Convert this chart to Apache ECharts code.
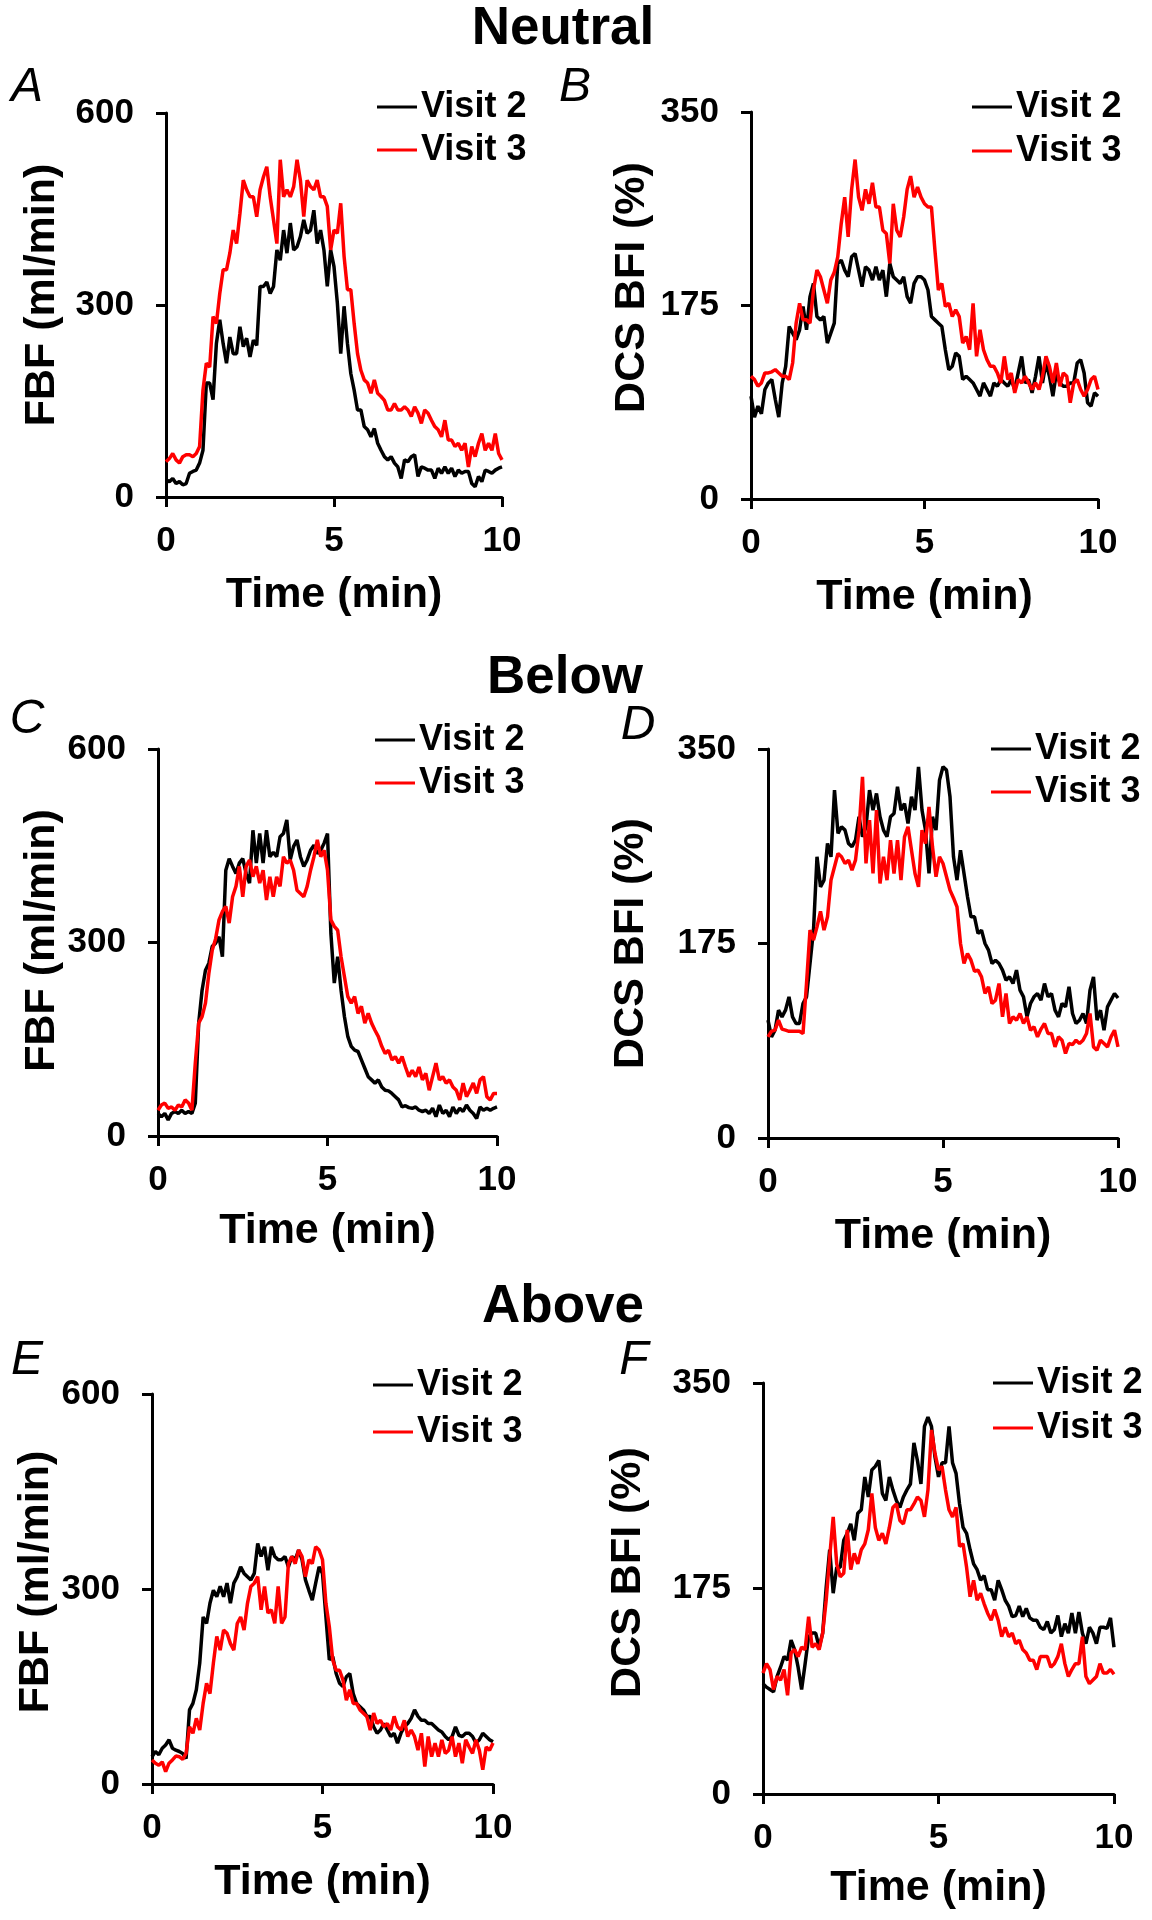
<!DOCTYPE html>
<html>
<head>
<meta charset="utf-8">
<script src="https://cdn.jsdelivr.net/npm/echarts@6/dist/echarts.min.js"></script>
<style>
html,body{margin:0;padding:0;background:#fff;}
#chart{width:1152px;height:1920px;}
</style>
</head>
<body>
<div id="chart"></div>
<script>
// ---------------- DATA ----------------
// sample times in minutes (one sample every 0.1 min, 0..10)
const timeMin = Array.from({length: 101}, (_, i) => Math.round(i) / 10);
const xTicks = [0, 5, 10];
const fbfTicks = [0, 300, 600];
const dcsTicks = [0, 175, 350];
const sectionTitles = ['Neutral', 'Below', 'Above'];
const panelLetters = ['A', 'B', 'C', 'D', 'E', 'F'];
const seriesNames = ['Visit 2', 'Visit 3'];

// Neutral - FBF (ml/min)
const neutralFbfV2 = [27,24,29,21,24,19,21,37,40,42,
 53,73,178,178,152,240,277,240,209,250,
 224,224,266,235,248,219,245,237,329,329,
 336,318,329,386,370,417,381,428,386,391,
 407,433,412,417,448,396,417,386,329,386,
 360,303,224,298,240,193,167,136,136,110,
 105,94,107,84,73,63,58,63,53,47,
 29,58,55,63,66,32,47,45,42,42,
 29,45,37,47,37,45,32,42,37,40,
 40,21,16,32,24,42,40,37,42,45,
 47];
const neutralFbfV3 = [55,60,68,58,53,63,66,66,63,68,
 79,167,209,203,282,271,318,355,355,381,
 417,396,443,495,480,469,469,438,480,500,
 516,469,433,396,527,469,480,469,485,527,
 495,438,495,485,480,495,469,469,454,386,
 417,412,459,376,324,324,271,224,198,183,
 178,162,183,162,157,151,136,136,146,136,
 136,141,136,126,141,131,115,136,131,120,
 110,105,94,120,89,89,79,84,73,84,
 47,79,63,84,99,73,84,73,99,68,
 58];
// Neutral - DCS BFI (%)
const neutralDcsV2 = [93,74,84,77,99,105,108,90,74,105,
 120,156,150,144,153,174,153,183,195,165,
 162,165,141,150,159,213,216,207,201,219,
 222,207,192,210,207,198,210,198,207,183,
 213,201,198,195,201,183,177,195,201,201,
 198,189,165,162,159,156,135,117,120,132,
 129,108,111,108,105,99,93,105,99,93,
 105,102,108,105,102,108,99,114,129,105,
 108,96,111,129,105,123,111,93,114,105,
 102,102,105,105,123,126,114,87,84,96,
 93];
const neutralDcsV3 = [111,108,102,105,114,114,115,117,114,111,
 111,108,123,159,177,162,162,159,189,207,
 201,189,177,198,205,219,249,273,237,280,
 307,273,261,280,267,286,264,264,243,240,
 213,267,243,237,255,280,292,273,282,273,
 267,264,264,225,189,195,174,177,165,171,
 165,141,147,135,177,129,153,135,126,120,
 120,114,105,129,108,114,96,108,105,111,
 105,99,105,99,111,129,120,105,123,102,
 114,111,87,105,108,99,93,99,108,111,
 99];
// Below - FBF (ml/min)
const belowFbfV2 = [35,30,35,25,35,38,35,40,35,38,
 35,51,175,226,257,268,294,299,309,278,
 412,430,418,407,423,430,407,392,474,423,
 469,423,474,433,440,433,464,469,490,428,
 449,459,433,418,428,443,451,438,443,454,
 469,314,237,278,226,185,154,139,133,131,
 118,105,92,87,82,87,76,71,70,66,
 61,56,45,47,44,43,45,40,38,40,
 35,43,30,48,35,40,30,45,35,43,
 38,48,40,35,27,45,40,43,40,43,
 45];
const belowFbfV3 = [40,48,51,43,45,40,48,45,56,51,
 40,113,175,185,206,252,288,306,335,348,
 356,330,371,387,418,371,418,428,402,418,
 392,412,366,402,371,402,387,433,423,428,
 412,381,376,371,387,412,433,459,433,443,
 412,335,325,319,278,247,216,206,216,190,
 201,175,190,175,164,154,139,128,133,118,
 123,113,123,107,92,102,92,107,87,97,
 71,92,113,87,92,82,87,76,71,56,
 82,61,71,82,66,87,92,61,56,66,
 66];
// Below - DCS BFI (%)
const belowDcsV2 = [106,91,97,115,109,115,127,109,103,103,
 121,127,157,187,253,226,232,265,253,313,
 274,280,277,265,262,268,289,271,280,313,
 295,310,289,277,271,289,292,316,295,301,
 283,307,295,334,295,277,238,289,277,322,
 334,331,307,253,232,259,238,217,199,199,
 184,187,175,169,157,160,157,151,142,145,
 139,151,133,127,109,121,127,130,124,139,
 127,130,115,109,121,118,136,112,103,106,
 112,103,133,145,106,115,97,118,124,130,
 126];
const belowDcsV3 = [91,96,97,106,98,97,96,96,96,96,
 94,139,187,178,190,204,187,199,232,244,
 256,253,247,250,241,250,277,325,247,286,
 238,295,229,253,232,268,238,268,232,271,
 280,259,238,226,277,265,298,262,235,253,
 247,235,223,216,208,175,157,166,160,150,
 151,145,130,136,121,124,139,109,130,103,
 109,106,112,103,109,97,100,91,98,103,
 94,94,82,91,88,76,85,84,88,85,
 88,94,112,82,79,88,85,82,91,97,
 82];
// Above - FBF (ml/min)
const aboveFbfV2 = [42,50,45,55,60,68,55,52,50,47,
 39,114,124,145,186,257,247,278,298,288,
 304,288,309,278,309,319,334,324,319,314,
 324,370,350,365,329,365,350,345,345,350,
 334,350,345,360,345,314,298,283,309,334,
 324,257,191,196,170,155,150,165,170,139,
 124,119,114,104,104,88,78,83,93,83,
 73,78,63,78,88,93,101,114,104,98,
 98,93,93,88,83,80,73,68,73,88,
 75,73,78,78,73,63,68,78,73,68,
 65];
const aboveFbfV3 = [37,32,29,34,19,32,37,43,42,38,
 47,88,78,101,83,124,155,139,186,227,
 206,237,232,216,206,247,257,237,278,304,
 309,319,268,304,263,268,247,304,247,257,
 339,350,339,360,350,319,345,339,365,360,
 345,278,242,191,175,175,160,129,145,124,
 124,114,109,104,83,109,93,98,88,93,
 83,104,88,83,98,73,83,73,52,78,
 27,73,42,63,42,68,47,52,73,42,
 63,32,68,57,47,68,52,22,57,52,
 63];
// Above - DCS BFI (%)
const aboveDcsV2 = [94,91,89,87,100,108,117,114,131,123,
 108,89,111,134,137,137,125,137,176,208,
 171,193,193,216,222,230,216,239,242,270,
 253,276,279,284,256,250,270,259,250,244,
 253,259,264,299,284,264,313,321,313,287,
 270,282,282,313,282,273,247,227,222,208,
 196,191,182,186,174,174,165,182,174,165,
 160,151,152,160,151,158,150,148,148,142,
 140,147,137,140,152,134,145,137,154,137,
 155,137,128,142,137,128,142,142,141,150,
 125];
const aboveDcsV3 = [103,111,106,89,100,97,106,84,120,123,
 117,125,123,151,125,128,123,137,165,202,
 236,196,185,188,225,191,205,196,208,213,
 225,256,227,216,222,213,227,244,247,233,
 230,242,242,247,253,250,236,259,310,290,
 276,279,259,242,236,244,211,213,193,168,
 182,165,171,162,154,148,157,148,134,142,
 134,137,128,131,123,120,114,114,106,117,
 117,117,108,111,117,128,111,100,106,111,
 111,134,100,94,97,100,111,103,103,106,
 102];

// ---------------- LAYOUT / STYLE ----------------
const FONT = "'Liberation Sans', Arial, Helvetica, sans-serif";
const panels = [
  {v2: neutralFbfV2, v3: neutralFbfV3, ticks: fbfTicks, yName: 'FBF (ml/min)',
   grid: {left: 166, top: 113, width: 336, height: 384}, yGap: 102, xGap: 77, yShift: 20,
   legend: {left: 377, top: 87, gap: 3}, letter: [27, 88]},
  {v2: neutralDcsV2, v3: neutralDcsV3, ticks: dcsTicks, yName: 'DCS BFI (%)',
   grid: {left: 751, top: 112, width: 347, height: 387}, yGap: 97, xGap: 77, yShift: 36,
   legend: {left: 972, top: 87, gap: 4}, letter: [575, 88]},
  {v2: belowFbfV2, v3: belowFbfV3, ticks: fbfTicks, yName: 'FBF (ml/min)',
   grid: {left: 158, top: 749, width: 339, height: 387}, yGap: 93, xGap: 74, yShift: 4,
   legend: {left: 375, top: 720, gap: 3}, letter: [27, 720]},
  {v2: belowDcsV2, v3: belowDcsV3, ticks: dcsTicks, yName: 'DCS BFI (%)',
   grid: {left: 768, top: 749, width: 350, height: 389}, yGap: 115, xGap: 77, yShift: 0,
   legend: {left: 991, top: 729, gap: 3}, letter: [638, 726]},
  {v2: aboveFbfV2, v3: aboveFbfV3, ticks: fbfTicks, yName: 'FBF (ml/min)',
   grid: {left: 152, top: 1394, width: 341, height: 390}, yGap: 89, xGap: 77, yShift: 14,
   legend: {left: 373, top: 1365, gap: 7}, letter: [27, 1361]},
  {v2: aboveDcsV2, v3: aboveDcsV3, ticks: dcsTicks, yName: 'DCS BFI (%)',
   grid: {left: 763, top: 1383, width: 351, height: 411}, yGap: 113, xGap: 73, yShift: 32,
   legend: {left: 993, top: 1363, gap: 5}, letter: [634, 1361]}
];
const sectionPos = [[563, 29], [565, 678], [563, 1307]];

const axisLineStyle = {show: true, lineStyle: {color: '#000', width: 3}};
const axisTickStyle = {show: true, inside: false, length: 10, lineStyle: {color: '#000', width: 3}};

const grid = [], xAxis = [], yAxis = [], series = [], legend = [], graphic = [];
panels.forEach((p, k) => {
  grid.push(Object.assign({containLabel: false}, p.grid));
  xAxis.push({
    type: 'value', gridIndex: k, min: xTicks[0], max: xTicks[xTicks.length - 1],
    interval: xTicks[1] - xTicks[0],
    axisLine: Object.assign({onZero: false}, axisLineStyle), axisTick: axisTickStyle,
    splitLine: {show: false},
    axisLabel: {color: '#000', fontFamily: FONT, fontWeight: 'bold', fontSize: 35, margin: 27},
    name: 'Time (min)', nameLocation: 'middle', nameGap: p.xGap,
    nameTextStyle: {color: '#000', fontFamily: FONT, fontWeight: 'bold', fontSize: 43}
  });
  yAxis.push({
    type: 'value', gridIndex: k, min: p.ticks[0], max: p.ticks[p.ticks.length - 1],
    interval: p.ticks[1] - p.ticks[0],
    axisLine: Object.assign({onZero: false}, axisLineStyle), axisTick: axisTickStyle,
    splitLine: {show: false},
    axisLabel: {color: '#000', fontFamily: FONT, fontWeight: 'bold', fontSize: 35, margin: 32},
    name: p.yName, nameLocation: 'middle', nameGap: p.yGap, nameRotate: 90,
    nameTextStyle: {color: '#000', fontFamily: FONT, fontWeight: 'bold', fontSize: 43,
                    padding: [0, 0, 0, p.yShift]}
  });
  [[p.v2, '#000000'], [p.v3, '#ff0000']].forEach(([vals, col], s) => {
    series.push({
      type: 'line', name: seriesNames[s], xAxisIndex: k, yAxisIndex: k,
      data: vals.map((v, i) => [timeMin[i], v]),
      showSymbol: false, symbol: 'none', silent: true, animation: false,
      lineStyle: {color: col, width: 3.5}, itemStyle: {color: col}
    });
  });
  legend.push({
    orient: 'vertical', left: p.legend.left, top: p.legend.top, padding: 0,
    itemGap: p.legend.gap, itemWidth: 40, itemHeight: 3, icon: 'rect',
    selectedMode: false, data: seriesNames,
    textStyle: {color: '#000', fontFamily: FONT, fontWeight: 'bold', fontSize: 36, lineHeight: 40, padding: [0, 0, 0, -1]}
  });
  graphic.push({
    type: 'text', x: p.letter[0], y: p.letter[1],
    style: {text: panelLetters[k], font: 'italic 48px ' + FONT, fill: '#000',
            textAlign: 'center', textVerticalAlign: 'middle', align: 'center', verticalAlign: 'middle'}
  });
});
sectionTitles.forEach((t, j) => {
  graphic.push({
    type: 'text', x: sectionPos[j][0], y: sectionPos[j][1],
    style: {text: t, font: 'bold 53px ' + FONT, fill: '#000',
            textAlign: 'center', textVerticalAlign: 'middle', align: 'center', verticalAlign: 'middle'}
  });
});

const chart = echarts.init(document.getElementById('chart'), null, {renderer: 'canvas'});
chart.setOption({
  backgroundColor: '#ffffff',
  animation: false,
  grid, xAxis, yAxis, series, legend, graphic
});
</script>
</body>
</html>
